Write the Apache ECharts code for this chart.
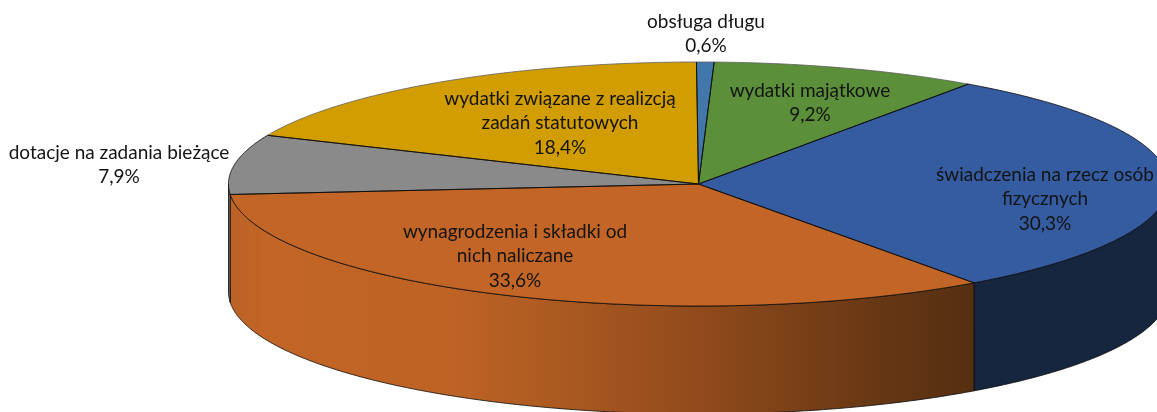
<!DOCTYPE html>
<html>
<head>
<meta charset="utf-8">
<title>Wydatki</title>
<script src="https://cdn.jsdelivr.net/npm/echarts@6/dist/echarts.min.js"></script>
<style>
    html, body { margin: 0; padding: 0; background: #fff; }
    #chart { width: 1157px; height: 412px; }
</style>
</head>
<body>
<div id="chart"></div>
<script>
// dane, w kolejnosci zgodnej z ruchem wskazowek od godziny 12
const categories = [
    'obsługa długu',
    'wydatki majątkowe',
    'świadczenia na rzecz osób\nfizycznych',
    'wynagrodzenia i składki od\nnich naliczane',
    'dotacje na zadania bieżące',
    'wydatki związane z realizcją\nzadań statutowych',
];
const values = [0.6, 9.2, 30.3, 33.6, 7.9, 18.4];

const topColors = ['#4177AB', '#5B8F3A', '#355BA0', '#C26526', '#8A8A8A', '#D19D00'];
const labelCenters = [[706, 34], [810, 103], [1045, 199], [515, 256], [119, 165], [560, 123]];

const CX = 698.5, CY = 184, RX = 470, RY = 122, DEPTH = 108;
const START = -0.25 * Math.PI / 180;
const total = values.reduce((a, b) => a + b, 0);

function pointAt(t, dy) {
    return [CX + RX * Math.sin(t), CY - RY * Math.cos(t) + (dy || 0)];
}

function arcPoints(from, to, dy) {
    const steps = Math.max(2, Math.ceil(Math.abs(to - from) * 120));
    const pts = [];
    for (let i = 0; i <= steps; i++) {
        pts.push(pointAt(from + (to - from) * i / steps, dy));
    }
    return pts;
}

function wallFill(index) {
    if (index === 3) {
        return new echarts.graphic.LinearGradient(229, 0, 975, 0, [
            { offset: 0, color: '#BC6226' },
            { offset: 0.05, color: '#C26526' },
            { offset: 0.3, color: '#BE6325' },
            { offset: 0.42, color: '#AE5B22' },
            { offset: 0.62, color: '#934B1C' },
            { offset: 0.85, color: '#6A3915' },
            { offset: 1, color: '#552E11' },
        ], true);
    }
    if (index === 2) return '#16263F';
    return '#6E6E6E';
}

const edgeStroke = 'rgba(10,10,10,0.8)';
const backRimStroke = 'rgba(95,95,95,0.8)';

function renderSlice(params, api) {
    const index = api.value(1);
    const before = values.slice(0, index).reduce((a, b) => a + b, 0);
    const from = START + before / total * Math.PI * 2;
    const to = START + (before + api.value(0)) / total * Math.PI * 2;
    const children = [];

    // sciana boczna, widoczna tylko w przedniej polowie
    const wallFrom = Math.max(from, Math.PI / 2);
    const wallTo = Math.min(to, Math.PI * 3 / 2);
    if (wallTo > wallFrom) {
        const wall = arcPoints(wallFrom, wallTo, 0).concat(arcPoints(wallTo, wallFrom, DEPTH));
        children.push({
            type: 'polygon',
            z2: 1,
            shape: { points: wall },
            style: { fill: wallFill(index), stroke: edgeStroke, lineWidth: 1 },
        });
    }

    const rim = arcPoints(from, to, 0);
    children.push({
        type: 'polygon',
        z2: 2,
        shape: { points: [[CX, CY]].concat(rim) },
        style: { fill: topColors[index] },
    });
    // tylny brzeg jest jasniejszy niz promienie
    children.push({
        type: 'polyline',
        z2: 3,
        shape: { points: rim },
        style: { fill: null, stroke: to < Math.PI / 2 || from > Math.PI * 3 / 2 ? backRimStroke : edgeStroke, lineWidth: 1 },
    });
    children.push({
        type: 'polyline',
        z2: 3,
        shape: { points: [rim[rim.length - 1], [CX, CY], rim[0]] },
        style: { fill: null, stroke: edgeStroke, lineWidth: 1 },
    });

    children.push({
        type: 'text',
        z2: 4,
        style: {
            x: labelCenters[index][0],
            y: labelCenters[index][1],
            text: categories[index] + '\n' + api.value(0).toFixed(1).replace('.', ',') + '%',
            align: 'center',
            verticalAlign: 'middle',
            fontFamily: 'Lato',
            fontSize: 19,
            lineHeight: 24.5,
            fill: '#141414',
        },
    });

    return { type: 'group', children: children };
}

const myChart = echarts.init(document.getElementById('chart'), null, { renderer: 'canvas' });
myChart.setOption({
    animation: false,
    backgroundColor: '#fff',
    series: [
        {
            type: 'custom',
            coordinateSystem: 'none',
            silent: true,
            renderItem: renderSlice,
            data: values.map((v, i) => [v, i]),
        },
    ],
});
</script>
</body>
</html>
